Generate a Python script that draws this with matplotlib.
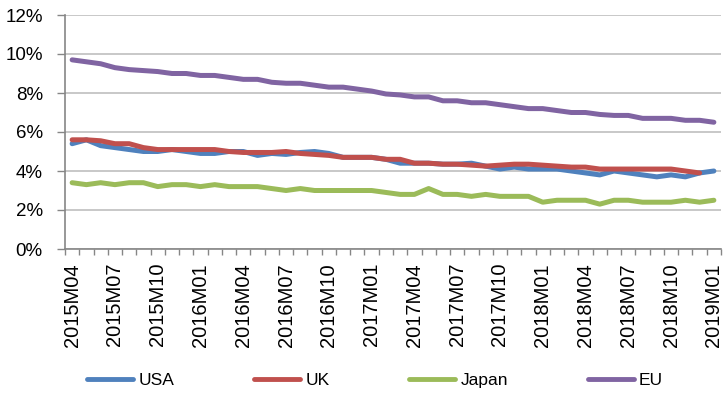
import matplotlib
matplotlib.use("Agg")
import matplotlib.pyplot as plt
import numpy as np
from matplotlib.ticker import FuncFormatter

plt.rcParams['font.family'] = ['Liberation Sans', 'DejaVu Sans']

months = ["2015M04", "2015M05", "2015M06", "2015M07", "2015M08", "2015M09",
          "2015M10", "2015M11", "2015M12", "2016M01", "2016M02", "2016M03",
          "2016M04", "2016M05", "2016M06", "2016M07", "2016M08", "2016M09",
          "2016M10", "2016M11", "2016M12", "2017M01", "2017M02", "2017M03",
          "2017M04", "2017M05", "2017M06", "2017M07", "2017M08", "2017M09",
          "2017M10", "2017M11", "2017M12", "2018M01", "2018M02", "2018M03",
          "2018M04", "2018M05", "2018M06", "2018M07", "2018M08", "2018M09",
          "2018M10", "2018M11", "2018M12", "2019M01"]

usa = [5.4, 5.6, 5.3, 5.2, 5.1, 5.0, 5.0, 5.1, 5.0, 4.9,
       4.9, 5.0, 5.0, 4.8, 4.9, 4.85, 4.95, 5.0, 4.9, 4.7,
       4.7, 4.7, 4.6, 4.4, 4.4, 4.4, 4.35, 4.35, 4.4, 4.25,
       4.1, 4.2, 4.1, 4.1, 4.1, 4.0, 3.9, 3.8, 4.0, 3.9,
       3.8, 3.7, 3.8, 3.7, 3.9, 4.0]
uk = [5.6, 5.6, 5.55, 5.4, 5.4, 5.2, 5.1, 5.1, 5.1, 5.1,
      5.1, 5.0, 4.95, 4.95, 4.95, 5.0, 4.9, 4.85, 4.8, 4.7,
      4.7, 4.7, 4.6, 4.6, 4.4, 4.4, 4.35, 4.35, 4.3, 4.25,
      4.3, 4.35, 4.35, 4.3, 4.25, 4.2, 4.2, 4.1, 4.1, 4.1,
      4.1, 4.1, 4.1, 4.0, 3.9, None]
japan = [3.4, 3.3, 3.4, 3.3, 3.4, 3.4, 3.2, 3.3, 3.3, 3.2,
         3.3, 3.2, 3.2, 3.2, 3.1, 3.0, 3.1, 3.0, 3.0, 3.0,
         3.0, 3.0, 2.9, 2.8, 2.8, 3.1, 2.8, 2.8, 2.7, 2.8,
         2.7, 2.7, 2.7, 2.4, 2.5, 2.5, 2.5, 2.3, 2.5, 2.5,
         2.4, 2.4, 2.4, 2.5, 2.4, 2.5]
eu = [9.7, 9.6, 9.5, 9.3, 9.2, 9.15, 9.1, 9.0, 9.0, 8.9,
      8.9, 8.8, 8.7, 8.7, 8.55, 8.5, 8.5, 8.4, 8.3, 8.3,
      8.2, 8.1, 7.95, 7.9, 7.8, 7.8, 7.6, 7.6, 7.5, 7.5,
      7.4, 7.3, 7.2, 7.2, 7.1, 7.0, 7.0, 6.9, 6.85, 6.85,
      6.7, 6.7, 6.7, 6.6, 6.6, 6.5]

series_names = ["USA", "UK", "Japan", "EU"]
colors = ["#4F81BD", "#C0504D", "#9BBB59", "#8064A2"]
y_ticks = [0, 2, 4, 6, 8, 10, 12]

fig = plt.figure(figsize=(7.25, 3.94), dpi=100)
ax = fig.add_axes([65/725, (394-249)/394, 656/725, 234/394])

x = np.arange(len(months))
for name, vals, c in zip(series_names, [usa, uk, japan, eu], colors):
    v = np.array([np.nan if a is None else a for a in vals], dtype=float)
    ax.plot(x, v, color=c, lw=3.6, label=name,
            solid_joinstyle='round', solid_capstyle='round')

ax.set_xlim(-0.5, len(months) - 0.5)
ax.set_ylim(0, 12)
ax.set_yticks(y_ticks)
ax.yaxis.set_major_formatter(FuncFormatter(lambda v, p: f"{v:.0f}%"))
ax.grid(axis='y', color='#BFBFBF', lw=1.2)
ax.set_axisbelow(True)

# x: tick marks between categories, labels every 3rd month
ax.set_xticks(np.arange(-0.5, len(months)), minor=False)
ax.set_xticklabels([])
lab_pos = x[::3]
ax.set_xticks(lab_pos, minor=True)
ax.set_xticklabels([months[i] for i in lab_pos], minor=True, rotation=90,
                   fontsize=14.5)
ax.tick_params(axis='x', which='major', length=4, width=1, color='#868686',
               direction='out')
ax.tick_params(axis='x', which='minor', length=0, pad=10)
ax.tick_params(axis='y', length=6, width=1, color='#868686', pad=10,
               labelsize=13.5)

for s in ['top', 'right']:
    ax.spines[s].set_visible(False)
for s in ['left', 'bottom']:
    ax.spines[s].set_color('#868686')
    ax.spines[s].set_linewidth(1.2)

leg = fig.legend(loc='center', bbox_to_anchor=(375/725, (394-380)/394),
                 ncol=4, frameon=False, fontsize=12.5, handlelength=2.65,
                 handletextpad=0.3, columnspacing=4.6, borderaxespad=0)
for h in leg.get_lines():
    h.set_linewidth(3.5)
    h.set_solid_capstyle('round')

fig.savefig("out.png", dpi=100)
